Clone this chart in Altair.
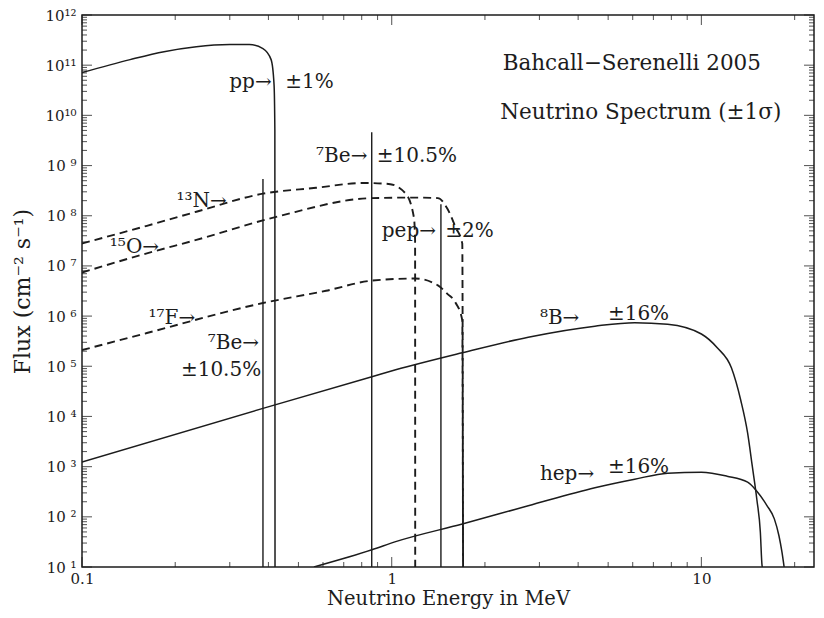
import altair as alt
import pandas as pd

FONT = "DejaVu Serif"
INK = "#1c1c1c"

# ---- continuum spectra (energy in MeV, flux) ----
pp_E = [0.1, 0.143, 0.184, 0.234, 0.30, 0.347, 0.384, 0.408, 0.417, 0.4195, 0.42]
pp_F = [7.1e10, 1.29e11, 1.86e11, 2.34e11, 2.57e11, 2.57e11, 2.14e11, 1.29e11, 4.1e10, 5e9, 10]

b8_E = [0.1, 0.384, 0.863, 1.03, 1.69, 2.76, 4.53, 6.09, 7.78, 10.0, 11.25, 12.5, 13.4, 14.1, 14.6, 15.1, 15.5, 15.7, 15.75]
b8_F = [1.23e3, 1.45e4, 6.2e4, 8.5e4, 1.86e5, 3.8e5, 6.3e5, 7.4e5, 6.9e5, 4.4e5, 2.34e5, 9.3e4, 2.1e4, 4.7e3, 1.02e3, 224, 50, 10.7, 10]

hep_E = [0.561, 0.863, 1.03, 1.69, 2.76, 4.53, 6.09, 7.78, 10.0, 12.1, 14.1, 15.1, 16.3, 17.2, 17.8, 18.2, 18.5]
hep_F = [10, 22, 32, 72, 166, 380, 562, 741, 776, 646, 490, 324, 166, 91, 42, 20, 10]

n13_E = [0.1, 0.162, 0.234, 0.384, 0.57, 0.81, 0.978, 1.11, 1.18, 1.19, 1.191]
n13_F = [2.8e7, 6.3e7, 1.2e8, 2.75e8, 3.6e8, 4.5e8, 4.3e8, 2.75e8, 9.1e7, 3.2e7, 10]

o15_E = [0.1, 0.162, 0.234, 0.424, 0.86, 1.19, 1.41, 1.51, 1.61, 1.69, 1.70]
o15_F = [7.4e6, 1.78e7, 3.3e7, 9.5e7, 2.24e8, 2.3e8, 2.24e8, 1.41e8, 5.8e7, 2.8e7, 10]

f17_E = [0.1, 0.162, 0.384, 0.614, 0.866, 1.19, 1.41, 1.51, 1.61, 1.69, 1.70]
f17_F = [2.1e5, 4.6e5, 1.82e6, 3.2e6, 5.1e6, 5.6e6, 4.1e6, 2.8e6, 1.82e6, 8.3e5, 10]

# ---- line sources ----
line_names = ["7Be 384", "7Be 862", "pep"]
line_E = [0.384, 0.862, 1.442]
line_F = [5.4e8, 4.6e9, 1.7e8]

# ---- annotations (text, energy, flux) ----
left_text = ["pp→", "±1%", "⁷Be→", "±10.5%", "¹³N→", "¹⁵O→", "pep→", "±2%", "¹⁷F→", "⁸B→", "±16%", "hep→", "±16%"]
left_E = [0.299, 0.453, 0.570, 0.895, 0.202, 0.123, 0.929, 1.49, 0.164, 3.01, 4.99, 3.01, 4.99]
left_F = [4.7e10, 4.7e10, 1.55e9, 1.55e9, 2.0e8, 2.35e7, 5.0e7, 5.0e7, 9.1e5, 9.1e5, 1.1e6, 7.1e2, 9.8e2]

right_text = ["⁷Be→", "±10.5%"]
right_E = [0.373, 0.379]
right_F = [2.95e5, 8.5e4]

head_text = ["Bahcall−Serenelli 2005", "Neutrino Spectrum (±1σ)"]
head_E = [5.96, 6.37]
head_F = [1.07e11, 1.1e10]

# ---- axes ----
x_tick_values = [0.1, 1, 10]
x_tick_labels = ["0.1", "1", "10"]
x_minor = [0.2, 0.3, 0.4, 0.5, 0.6, 0.7, 0.8, 0.9, 2, 3, 4, 5, 6, 7, 8, 9, 20]
y_tick_values = [10.0 ** n for n in range(1, 13)]
y_tick_labels = ["10 ¹", "10 ²", "10 ³", "10 ⁴", "10 ⁵", "10 ⁶", "10 ⁷", "10 ⁸", "10 ⁹", "10¹⁰", "10¹¹", "10¹²"]
y_minor = [k * 10.0 ** n for n in range(1, 12) for k in range(2, 10)]

X_DOMAIN = [0.1, 23.1]
Y_DOMAIN = [10, 1e12]


def frame(name, E, F):
    return pd.DataFrame({"series": name, "E": E, "F": F, "i": list(range(len(E)))})


solid = pd.concat([frame("pp", pp_E, pp_F), frame("8B", b8_E, b8_F), frame("hep", hep_E, hep_F)])
dashed = pd.concat([frame("13N", n13_E, n13_F), frame("15O", o15_E, o15_F), frame("17F", f17_E, f17_F)])
lines = pd.DataFrame({"series": line_names, "E": line_E, "F": line_F})
left_df = pd.DataFrame({"t": left_text, "E": left_E, "F": left_F})
right_df = pd.DataFrame({"t": right_text, "E": right_E, "F": right_F})
head_df = pd.DataFrame({"t": head_text, "E": head_E, "F": head_F})

xs = alt.Scale(type="log", domain=X_DOMAIN, nice=False)
ys = alt.Scale(type="log", domain=Y_DOMAIN, nice=False)

x_axis = alt.Axis(
    values=x_tick_values,
    labelExpr=f"{x_tick_labels}[round(log(datum.value)/LN10)+1]",
    ticks=False, domain=False, grid=False, labelFlush=False,
    labelFont=FONT, labelFontSize=15, labelColor=INK, labelPadding=4,
    title="Neutrino Energy in MeV", titleFont=FONT, titleFontSize=19.5,
    titleFontWeight="normal", titleColor=INK, titlePadding=3,
)
y_axis = alt.Axis(
    values=y_tick_values,
    labelExpr=f"{y_tick_labels}[round(log(datum.value)/LN10)-1]",
    ticks=False, domain=False, grid=False, labelFlush=False,
    labelFont=FONT, labelFontSize=15, labelColor=INK, labelPadding=6,
    title="Flux (cm⁻² s⁻¹)", titleFont=FONT, titleFontSize=22,
    titleFontWeight="normal", titleColor=INK, titlePadding=10,
)

X = lambda f: alt.X(f, type="quantitative", scale=xs, axis=x_axis)
Y = lambda f: alt.Y(f, type="quantitative", scale=ys, axis=y_axis)

solid_layer = alt.Chart(solid).mark_line(color=INK, strokeWidth=1.5, clip=True, interpolate="monotone").encode(
    x=X("E"), y=Y("F"), detail="series:N", order="i:Q")
dashed_layer = alt.Chart(dashed).mark_line(color=INK, strokeWidth=1.9, strokeDash=[8, 5], clip=True, interpolate="monotone").encode(
    x=X("E"), y=Y("F"), detail="series:N", order="i:Q")
rule_layer = alt.Chart(lines).mark_rule(color=INK, strokeWidth=1.4).encode(
    x=X("E"), y=Y("F"), y2=alt.datum(10))

txt = dict(font=FONT, fontSize=20, color=INK, baseline="middle")
left_layer = alt.Chart(left_df).mark_text(align="left", **txt).encode(x=X("E"), y=Y("F"), text="t:N")
right_layer = alt.Chart(right_df).mark_text(align="right", **txt).encode(x=X("E"), y=Y("F"), text="t:N")
head_layer = alt.Chart(head_df).mark_text(align="center", font=FONT, fontSize=21.5, color=INK,
                                          baseline="middle").encode(x=X("E"), y=Y("F"), text="t:N")

# inward ticks on all four sides
ymaj = pd.DataFrame({"F": y_tick_values})
ymin = pd.DataFrame({"F": y_minor})
xmaj = pd.DataFrame({"E": x_tick_values})
xmin = pd.DataFrame({"E": x_minor})


def yticks(df, size, at_left):
    return alt.Chart(df).mark_tick(orient="horizontal", size=size, thickness=1.1, color=INK,
                                   xOffset=(size / 2 if at_left else -size / 2)).encode(
        x=alt.XDatum(X_DOMAIN[0] if at_left else X_DOMAIN[1], type="quantitative", scale=xs, axis=x_axis),
        y=Y("F"))


def xticks(df, size, at_bottom):
    return alt.Chart(df).mark_tick(orient="vertical", size=size, thickness=1.1, color=INK,
                                   yOffset=(-size / 2 if at_bottom else size / 2)).encode(
        y=alt.YDatum(Y_DOMAIN[0] if at_bottom else Y_DOMAIN[1], type="quantitative", scale=ys, axis=y_axis),
        x=X("E"))


tick_layers = [
    yticks(ymaj, 10, True), yticks(ymin, 5, True), yticks(ymaj, 10, False), yticks(ymin, 5, False),
    xticks(xmaj, 10, True), xticks(xmin, 5, True), xticks(xmaj, 10, False), xticks(xmin, 5, False),
]

chart = alt.layer(
    solid_layer, dashed_layer, rule_layer, left_layer, right_layer, head_layer, *tick_layers
).properties(
    width=732, height=552,
    padding={"left": 74, "top": 7, "right": 2, "bottom": 43},
    autosize=alt.AutoSizeParams(type="none"),
    background="white",
).configure_view(stroke=INK, strokeWidth=1.5)

chart.save("out.html", embed_options={"renderer": "svg", "actions": False})
